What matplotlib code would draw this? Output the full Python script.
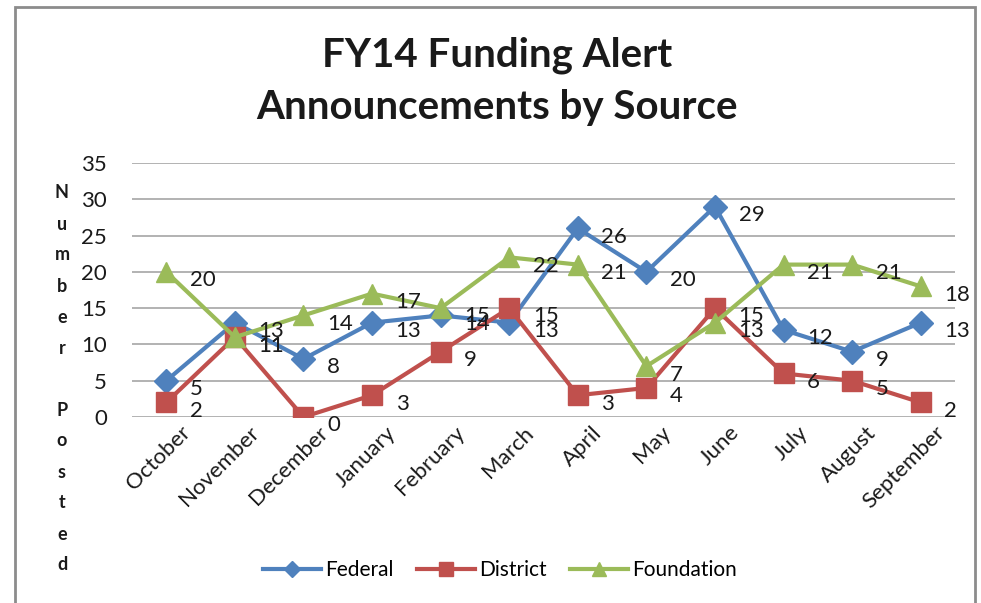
import matplotlib
matplotlib.use("Agg")
import matplotlib.pyplot as plt
import matplotlib.transforms as mtransforms
from matplotlib.patches import Rectangle

months = ["October", "November", "December", "January", "February", "March",
          "April", "May", "June", "July", "August", "September"]
federal = [5, 13, 8, 13, 14, 13, 26, 20, 29, 12, 9, 13]
district = [2, 11, 0, 3, 9, 15, 3, 4, 15, 6, 5, 2]
foundation = [20, 11, 14, 17, 15, 22, 21, 7, 13, 21, 21, 18]

series = [
    ("Federal", federal, "#4F81BD", "D", 12),
    ("District", district, "#C0504D", "s", 14),
    ("Foundation", foundation, "#9BBB59", "^", 15),
]

plt.rcParams['font.family'] = ['Lato', 'DejaVu Sans']

fig = plt.figure(figsize=(9.81, 6.03), dpi=100)
ax = fig.add_axes([132 / 981, 1 - 417 / 603, 823 / 981, 254 / 603])

x = list(range(len(months)))
handles = []
for name, vals, color, marker, ms in series:
    h, = ax.plot(x, vals, color=color, lw=3, marker=marker, ms=ms,
                 label=name, zorder=3)
    handles.append(h)
    for xi, v in zip(x, vals):
        ax.annotate(str(v), (xi, v), xytext=(17, -6), textcoords="offset points",
                    ha="left", va="center", fontsize=16, color="#1a1a1a", zorder=4)

ax.set_xlim(-0.5, len(months) - 0.5)
ax.set_ylim(0, 35)
ax.set_yticks(range(0, 36, 5))
ax.yaxis.grid(True, color="#a6a6a6", lw=1.2)
ax.set_axisbelow(True)
for s in ax.spines.values():
    s.set_visible(False)
ax.tick_params(axis="both", length=0, labelsize=16, colors="#1a1a1a")
ax.tick_params(axis="y", pad=18)
ax.set_xticks(x)
ax.set_xticklabels(months, rotation=45, ha="right", rotation_mode="anchor")
ax.tick_params(axis="x", pad=4)
shift = mtransforms.ScaledTranslation(14 / 100, 0, fig.dpi_scale_trans)
for lbl in ax.get_xticklabels():
    lbl.set_transform(lbl.get_transform() + shift)

# vertical stacked axis label
label = "Number Posted"
y0 = 193
for i, ch in enumerate(label):
    if ch != " ":
        fig.text(62 / 981, 1 - (y0 + i * 31) / 603, ch, ha="center", va="center",
                 fontsize=13, fontweight="bold", color="#1a1a1a")

fig.text(497 / 981, 1 - 55 / 603, "FY14 Funding Alert", ha="center", va="center",
         fontsize=29, fontweight="bold", color="#1a1a1a")
fig.text(497 / 981, 1 - 107 / 603, "Announcements by Source", ha="center", va="center",
         fontsize=29, fontweight="bold", color="#1a1a1a")

fig.legend(handles=handles, loc="center", bbox_to_anchor=(500 / 981, 1 - 570 / 603),
           ncol=3, frameon=False, fontsize=15, handlelength=2.8, columnspacing=1.1,
           handletextpad=0.2, markerscale=0.7)

fig.patches.append(Rectangle((15 / 981, -0.1), 960 / 981, 1.1 - 7 / 603,
                             transform=fig.transFigure, fill=False,
                             edgecolor="#8c8c8c", lw=2))

fig.savefig("out.png", dpi=100)
